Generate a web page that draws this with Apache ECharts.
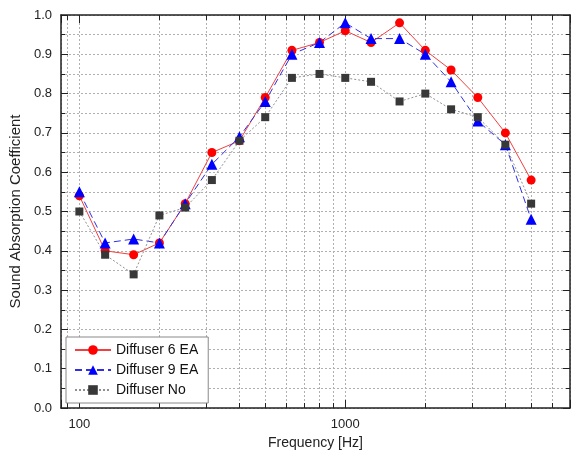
<!DOCTYPE html>
<html>
<head>
<meta charset="utf-8">
<script src="https://cdn.jsdelivr.net/npm/echarts@6/dist/echarts.min.js"></script>
<style>html,body{margin:0;padding:0;background:#fff}#c{width:571px;height:455px}</style>
</head>
<body>
<div id="c"></div>
<script>
var freqs = [100, 125, 160, 200, 250, 315, 400, 500, 630, 800, 1000, 1250, 1600, 2000, 2500, 3150, 4000, 5000];
var diffuser6 = [0.54, 0.40, 0.39, 0.42, 0.52, 0.65, 0.68, 0.79, 0.91, 0.93, 0.96, 0.93, 0.98, 0.91, 0.86, 0.79, 0.70, 0.58];
var diffuser9 = [0.55, 0.42, 0.43, 0.42, 0.52, 0.62, 0.69, 0.78, 0.90, 0.93, 0.98, 0.94, 0.94, 0.90, 0.83, 0.73, 0.67, 0.48];
var diffuserNo = [0.50, 0.39, 0.34, 0.49, 0.51, 0.58, 0.68, 0.74, 0.84, 0.85, 0.84, 0.83, 0.78, 0.80, 0.76, 0.74, 0.67, 0.52];
var seriesNames = ['Diffuser 6 EA', 'Diffuser 9 EA', 'Diffuser No'];

function pairs(vals) { return freqs.map(function (f, i) { return [f, vals[i]]; }); }

var FONT = 'Liberation Sans';
var gridLine = { show: true, lineStyle: { color: '#b0b0b0', type: [2, 2], width: 1 } };

var chart = echarts.init(document.getElementById('c'), null, { renderer: 'canvas' });
chart.setOption({
  animation: false,
  backgroundColor: '#fff',
  grid: { left: 61, right: 1, top: 15, bottom: 45 },
  legend: {
    left: 66, top: 337, orient: 'vertical',
    backgroundColor: '#fff', borderColor: '#888', borderWidth: 1,
    padding: [6, 10, 6, 8], itemGap: 6, itemWidth: 36, itemHeight: 12,
    textStyle: { fontFamily: FONT, fontSize: 14, color: '#111' },
    data: seriesNames
  },
  xAxis: [{
    type: 'log', logBase: 10, min: 85.3, max: 7000,
    name: 'Frequency [Hz]', nameLocation: 'middle', nameGap: 28,
    nameTextStyle: { fontFamily: FONT, fontSize: 14, color: '#222' },
    axisLine: { show: true, onZero: false, lineStyle: { color: '#222', width: 1.5 } },
    axisTick: { show: true, inside: true, length: 8, lineStyle: { color: '#222' } },
    minorTick: { show: true, splitNumber: 9, length: 5, lineStyle: { color: '#222' } },
    axisLabel: { fontFamily: FONT, fontSize: 13, color: '#222', margin: 10, showMinLabel: false, showMaxLabel: false,
      formatter: function (v) { return String(Math.round(v)); } },
    splitLine: gridLine,
    minorSplitLine: gridLine
  }, {
    type: 'log', logBase: 10, min: 85.3, max: 7000, position: 'top',
    axisLine: { show: true, onZero: false, lineStyle: { color: '#222', width: 1.5 } },
    axisTick: { show: true, inside: true, length: 8, lineStyle: { color: '#222' } },
    minorTick: { show: true, splitNumber: 9, length: 5, lineStyle: { color: '#222' } },
    axisLabel: { show: false }, splitLine: { show: false }
  }],
  yAxis: [{
    type: 'value', min: 0, max: 1, interval: 0.1,
    name: 'Sound Absorption Coefficient', nameLocation: 'middle', nameGap: 32,
    nameTextStyle: { fontFamily: FONT, fontSize: 15, color: '#222' },
    axisLine: { show: true, lineStyle: { color: '#222', width: 1.5 } },
    axisTick: { show: true, inside: true, length: 7, lineStyle: { color: '#222' } },
    minorTick: { show: true, splitNumber: 2, length: 4, lineStyle: { color: '#222' } },
    axisLabel: { fontFamily: FONT, fontSize: 13, color: '#222', margin: 9, formatter: function (v) { return v.toFixed(1); } },
    splitLine: gridLine,
    minorSplitLine: gridLine
  }, {
    type: 'value', min: 0, max: 1, interval: 0.1, position: 'right',
    axisLine: { show: true, lineStyle: { color: '#222', width: 1.5 } },
    axisTick: { show: true, inside: true, length: 7, lineStyle: { color: '#222' } },
    minorTick: { show: true, splitNumber: 2, length: 4, lineStyle: { color: '#222' } },
    axisLabel: { show: false }, splitLine: { show: false }
  }],
  series: [{
    name: seriesNames[0], type: 'line', data: pairs(diffuser6),
    symbol: 'circle', symbolSize: 9, clip: false,
    itemStyle: { color: '#ff0000' },
    lineStyle: { color: '#f04040', width: 1, type: 'solid' }
  }, {
    name: seriesNames[1], type: 'line', data: pairs(diffuser9),
    symbol: 'triangle', symbolSize: 11, clip: false,
    itemStyle: { color: '#0000ff' },
    lineStyle: { color: '#3030e0', width: 1, type: [7, 4] }
  }, {
    name: seriesNames[2], type: 'line', data: pairs(diffuserNo),
    symbol: 'rect', symbolSize: 8, clip: false,
    itemStyle: { color: '#383838' },
    lineStyle: { color: '#909090', width: 1, type: [2, 2] }
  }]
});
</script>
</body>
</html>
